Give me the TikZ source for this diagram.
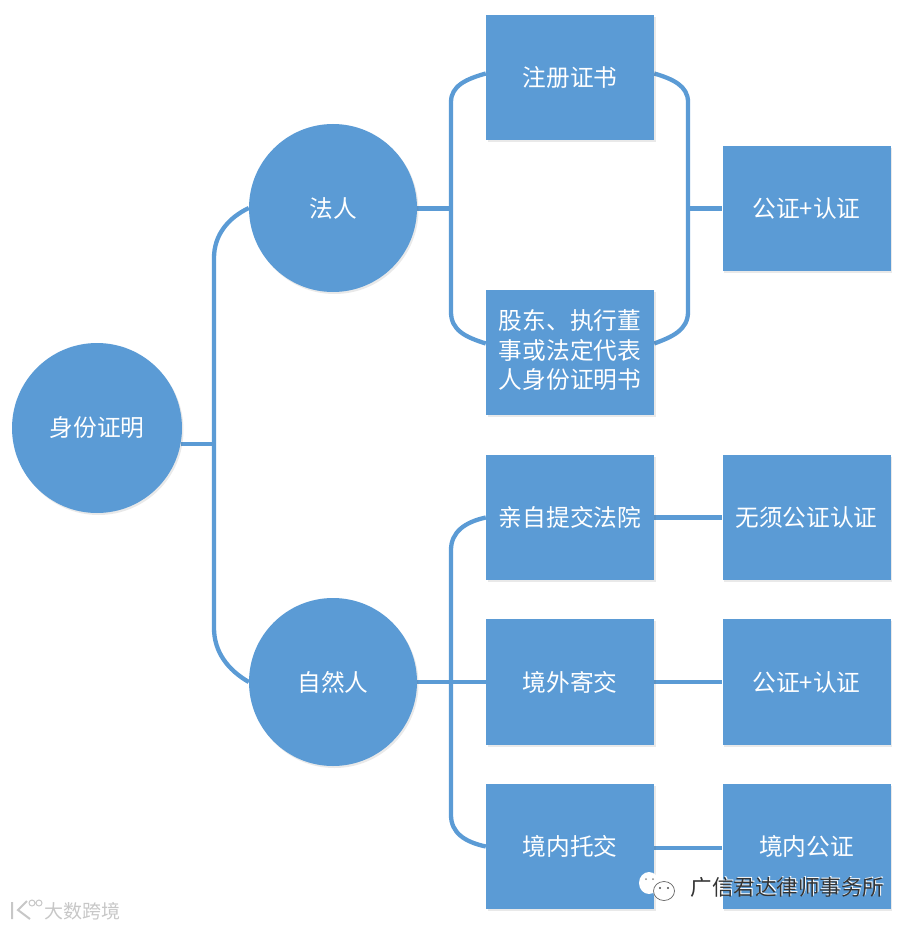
\documentclass[tikz,border=0pt]{standalone}
\usepackage{fontspec}
\setmainfont{Noto Sans CJK SC}
\usetikzlibrary{shadows,backgrounds}
\definecolor{mainblue}{HTML}{5B9BD5}
\tikzset{
  softshadow/.style={drop shadow={shadow xshift=1.5pt,shadow yshift=-2pt,opacity=0.14,fill=black!60}},
  bluecircle/.style={circle,fill=mainblue,minimum size=168pt,inner sep=0pt,text=white,font=\fontsize{23.7}{23.7}\selectfont,softshadow},
  bluebox/.style={rectangle,fill=mainblue,minimum width=168pt,minimum height=125.5pt,inner sep=0pt,text=white,font=\fontsize{23.7}{23.7}\selectfont,softshadow},
  wire/.style={draw=mainblue,line width=4.3pt,line cap=butt,line join=round},
}
\begin{document}
\begin{tikzpicture}[x=1pt,y=-1pt]
\useasboundingbox (0,0) rectangle (914,928);
\node[bluecircle,minimum size=170pt] (root) at (97,428) {身份证明};
\node[bluecircle] (faren) at (333,208) {法人};
\node[bluecircle] (ziran) at (333,682) {自然人};
\node[bluebox] (zc) at (570,77.5) {注册证书};
\node[bluebox] (gd) at (570,352.5) {\raisebox{-1pt}{\begin{tabular}{@{}c@{}}股东、执行董\\[2.5pt]事或法定代表\\[2.5pt]人身份证明书\end{tabular}}};
\node[bluebox] (gr1) at (806.5,208.5) {公证+认证};
\node[bluebox] (qz) at (570,517.5) {亲自提交法院};
\node[bluebox] (jw) at (570,682) {境外寄交};
\node[bluebox] (jn) at (570,846.5) {境内托交};
\node[bluebox] (wx) at (806.5,517.5) {无须公证认证};
\node[bluebox] (gr2) at (806.5,682) {公证+认证};
\node[bluebox] (jg) at (806.5,846.5) {境内公证};
\coordinate (trunkA) at (214,445);
\coordinate (busL) at (451,208.5);
\coordinate (busR) at (688,208.5);
\coordinate (busZ) at (451,682);
\begin{scope}[on background layer]
\draw[wire] (root.-11) -- (root.-11 -| trunkA);
\draw[wire] (faren.west) .. controls (228,218) and (214,235) .. (214,258) -- (214,628) .. controls (214,652) and (228,670) .. (ziran.west);
\draw[wire] (faren.east |- busL) -- (busL);
\draw[wire] ([yshift=4pt]zc.west) .. controls (466,79) and (451,86) .. (451,102) -- (451,312) .. controls (451,330) and (465,337) .. ([yshift=9pt]gd.west);
\draw[wire] ([yshift=4pt]zc.east) .. controls (673,79) and (688,86) .. (688,102) -- (688,312) .. controls (688,330) and (672,337) .. ([yshift=9pt]gd.east);
\draw[wire] (busR) -- (gr1.west);
\draw[wire] (ziran.east) -- (jw.west);
\draw[wire] (qz.west) .. controls (465,522) and (451,532) .. (451,550) -- (451,815) .. controls (451,833) and (465,842) .. (jn.west);
\draw[wire] (qz.east) -- (wx.west);
\draw[wire] (jw.east) -- (gr2.west);
\draw[wire] ([yshift=-1.5pt]jn.east) -- ([yshift=-1.5pt]jg.west);
\end{scope}
% WeChat watermark
\fill[white] (649,883) ellipse (10pt and 11pt);
\fill[black!45] (646,879) circle (1pt) (653,879) circle (1pt);
\fill[white] (664,891) ellipse (11pt and 10pt);
\draw[black!60,line width=0.7pt] (664,891) ellipse (10.5pt and 9.5pt);
\fill[black!70] (660,888) circle (1.2pt) (668,888) circle (1.2pt);
\node[text=white,font=\fontsize{21.5}{21.5}\selectfont,inner sep=0pt] (wmhalo) at (788.5,886) {广信君达律师事务所};
\node[text=black!80,font=\fontsize{21.5}{21.5}\selectfont,inner sep=0pt] (wm) at (787.5,887.5) {广信君达律师事务所};
% lower-left watermark
\node[text=black!22,font=\fontsize{19}{19}\selectfont,inner sep=0pt] (wm2) at (82,911) {大数跨境};
\draw[black!22,line width=2pt] (12,902) -- (12,919) (27,901) -- (18,910) -- (30,919);
\draw[black!22,line width=1pt] (32,903) circle (3pt) (39,903) circle (3pt);
\end{tikzpicture}
\end{document}
